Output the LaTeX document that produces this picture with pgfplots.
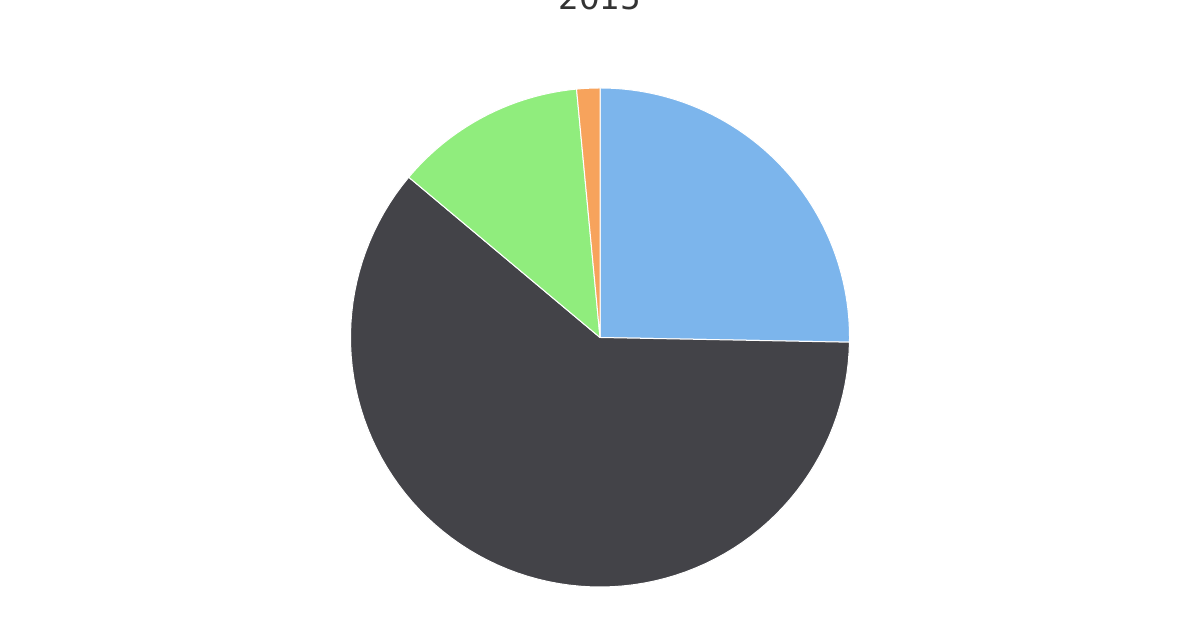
\documentclass[border=0pt]{standalone}
\usepackage{fontspec}
\setmainfont{DejaVu Sans}
\usepackage{pgfplots}
\usepackage{pgfplotstable}
\pgfplotsset{compat=1.18}

\definecolor{c1}{HTML}{7CB5EC}
\definecolor{c2}{HTML}{434348}
\definecolor{c3}{HTML}{90ED7D}
\definecolor{c4}{HTML}{F7A35C}
\definecolor{titlegray}{HTML}{333333}

% share of each slice, clockwise from 12 o'clock
\pgfplotstableread{
value colour
25.3  c1
60.8  c2
12.4  c3
1.5   c4
}\piedata

\begin{document}
\begin{tikzpicture}
\useasboundingbox (0,0) rectangle (600pt,320pt);
\begin{axis}[
    at={(0,0)}, anchor=south west,
    scale only axis, width=600pt, height=320pt,
    xmin=-2.4048, xmax=2.4048,
    ymin=-1.2124, ymax=1.3527,
    hide axis, clip=false,
]
\xdef\astart{90}
\pgfplotsinvokeforeach{0,...,3}{
    \pgfplotstablegetelem{#1}{value}\of\piedata
    \let\v\pgfplotsretval
    \pgfplotstablegetelem{#1}{colour}\of\piedata
    \let\col\pgfplotsretval
    \pgfmathsetmacro\aend{\astart-3.6*\v}
    \edef\doslice{\noexpand\addplot[fill=\col, draw=white, line width=0.5pt,
        line join=round, domain=\aend:\astart, samples=90, variable=\noexpand\t]
        ({cos(\noexpand\t)},{sin(\noexpand\t)}) -- (axis cs:0,0) -- cycle;}
    \doslice
    \xdef\astart{\aend}
}
\node[anchor=base, text=titlegray, font=\fontsize{16.3pt}{19pt}\selectfont]
    at (axis cs:0,1.3126) {2015};
\end{axis}
\end{tikzpicture}
\end{document}
